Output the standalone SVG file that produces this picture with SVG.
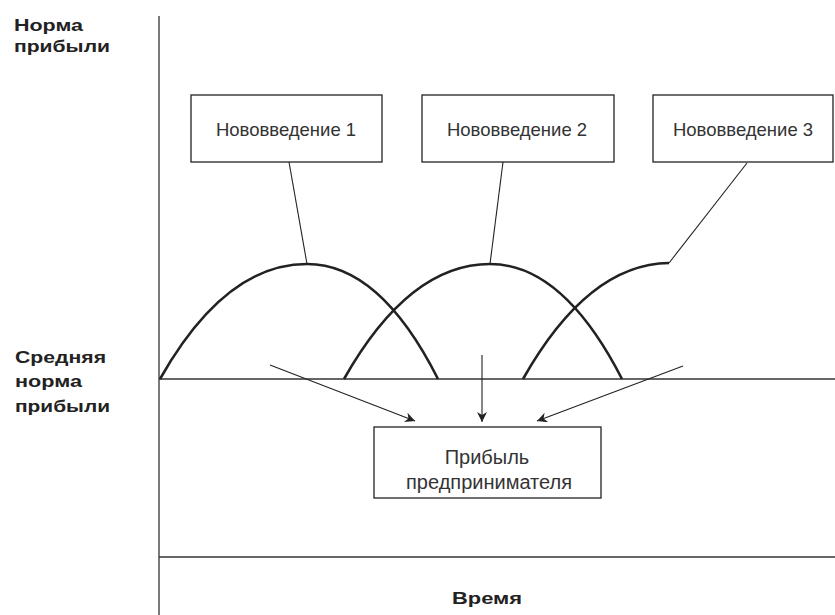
<svg xmlns="http://www.w3.org/2000/svg" width="835" height="615" viewBox="0 0 835 615">
<defs>
<style>
.axis{stroke:#333;stroke-width:1.3;fill:none}
.curve{stroke:#222;stroke-width:2.6;fill:none}
.thin{stroke:#222;stroke-width:1.1;fill:none}
.box{fill:#fff;stroke:#222;stroke-width:1.3}
.lbl{font-family:"Liberation Sans",Arial,sans-serif;font-size:18.5px;fill:#333;text-anchor:middle}
.big{font-size:20px}
.bold{font-family:"Liberation Sans",Arial,sans-serif;font-size:17px;font-weight:bold;fill:#222}
</style>
<marker id="ah" viewBox="0 0 10 10" refX="10" refY="5" markerWidth="10" markerHeight="10" markerUnits="userSpaceOnUse" orient="auto">
<path d="M0,0 L10,5 L0,10 L3,5 Z" fill="#222"/>
</marker>
</defs>
<rect width="835" height="615" fill="#fff"/>
<g id="axes">
<line class="axis" x1="159" y1="16" x2="159" y2="615"/>
<line class="axis" x1="159" y1="379" x2="835" y2="379"/>
<line class="axis" x1="159" y1="557" x2="835" y2="557"/>
</g>
<g id="labels">
<text class="bold" x="14" y="31" textLength="69" lengthAdjust="spacingAndGlyphs">Норма</text>
<text class="bold" x="14" y="52" textLength="96" lengthAdjust="spacingAndGlyphs">прибыли</text>
<text class="bold" x="15" y="363" textLength="91" lengthAdjust="spacingAndGlyphs">Средняя</text>
<text class="bold" x="15" y="387" textLength="67" lengthAdjust="spacingAndGlyphs">норма</text>
<text class="bold" x="15" y="412" textLength="95" lengthAdjust="spacingAndGlyphs">прибыли</text>
<text class="bold" x="452" y="604" textLength="70" lengthAdjust="spacingAndGlyphs">Время</text>
</g>
<g id="curves">
<path class="curve" d="M160,379 Q225,264 307,264 Q380,264 438,379"/>
<path class="curve" d="M344,379 Q409,264 490,264 Q563,264 622,379"/>
<path class="curve" d="M523,379 Q588,264 669,263"/>
</g>
<g id="connectors">
<line class="thin" x1="307" y1="264" x2="289" y2="162"/>
<line class="thin" x1="490" y1="264" x2="503" y2="162"/>
<line class="thin" x1="669" y1="263" x2="747" y2="163"/>
<line class="thin" x1="270" y1="365" x2="415" y2="421" marker-end="url(#ah)"/>
<line class="thin" x1="482" y1="355" x2="482" y2="422" marker-end="url(#ah)"/>
<line class="thin" x1="683" y1="366" x2="537" y2="421" marker-end="url(#ah)"/>
</g>
<g id="n1">
<rect class="box" x="191" y="95" width="191" height="67"/>
<text class="lbl" x="286" y="136">Нововведение 1</text>
</g>
<g id="n2">
<rect class="box" x="422" y="95" width="192" height="67"/>
<text class="lbl" x="517" y="136">Нововведение 2</text>
</g>
<g id="n3">
<rect class="box" x="653" y="95" width="180" height="67"/>
<text class="lbl" x="743" y="136">Нововведение 3</text>
</g>
<g id="n4">
<rect class="box" x="374" y="427" width="227" height="71"/>
<text class="lbl big" x="487" y="464">Прибыль</text>
<text class="lbl big" x="489" y="489">предпринимателя</text>
</g>
</svg>
